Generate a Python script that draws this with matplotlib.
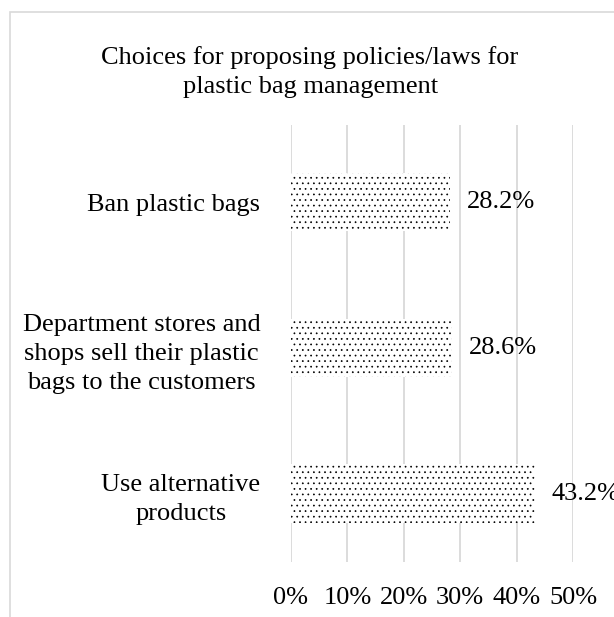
import matplotlib
matplotlib.use("Agg")
import matplotlib.pyplot as plt
from matplotlib.patches import Rectangle

# Donnees
categories = [
    "Ban plastic bags",
    "Department stores and\nshops sell their plastic\nbags to the customers",
    "Use alternative\nproducts",
]
values = [28.2, 28.6, 43.2]
xticks = [0, 10, 20, 30, 40, 50]
title = "Choices for proposing policies/laws for\nplastic bag management"

plt.rcParams["font.family"] = ["Liberation Serif", "DejaVu Serif"]
plt.rcParams["hatch.linewidth"] = 0.5
FS = 19
LS = 1.42
GRID = "#d9d9d9"

fig = plt.figure(figsize=(6.14, 6.17), dpi=100)

# Cadre du graphique (coupe a droite et en bas comme l'original)
fig.patches.append(Rectangle((10 / 614, -0.2), 1.2, 1 - 12 / 617 + 0.2,
                             transform=fig.transFigure, fill=False,
                             edgecolor=GRID, linewidth=1.2))

ax = fig.add_axes([291 / 614, 1 - 562 / 617, (573 - 291) / 614, (562 - 125) / 617])

y = list(range(len(categories)))
ax.barh(y, values, height=0.4, color="white", edgecolor="black",
        linewidth=0, hatch="...", zorder=3)

for yi, v in zip(y, values):
    ax.text(v + 3.0, yi, f"{v:.1f}%", va="center", ha="left", fontsize=FS,
            color="black", zorder=4)

ax.set_xlim(0, 50)
ax.set_ylim(len(categories) - 0.53, -0.53)
ax.set_xticks(xticks)
ax.set_xticklabels([f"{t}%" for t in xticks], fontsize=FS)
ax.set_yticks(y)
ax.set_yticklabels(categories, fontsize=FS, multialignment="center",
                   linespacing=LS)
ax.tick_params(axis="both", length=0)
ax.tick_params(axis="x", pad=18)
ax.tick_params(axis="y", pad=22)
ax.xaxis.grid(True, color=GRID, linewidth=1.3, zorder=0)
ax.set_axisbelow(True)
for s in ax.spines.values():
    s.set_visible(False)

fig.text(0.505, 1 - 72 / 617, title, ha="center", va="center", fontsize=FS,
         linespacing=LS)

fig.savefig("out.png", dpi=100)
